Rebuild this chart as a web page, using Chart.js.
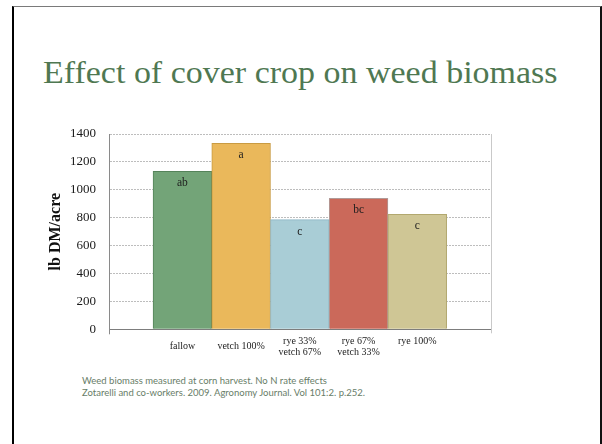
<!DOCTYPE html>
<html>
<head>
<meta charset="utf-8">
<script src="https://cdn.jsdelivr.net/npm/chart.js@4/dist/chart.umd.min.js"></script>
<style>
  html, body { margin: 0; padding: 0; background: #fff; width: 602px; height: 444px; overflow: hidden; }
  #slide {
    position: absolute; left: 12px; top: 6px; width: 586px; height: 460px;
    border-left: 2px solid #000; border-right: 2px solid #111; border-top: 1px solid #7a7a7a;
  }
  #title {
    position: absolute; left: 43px; top: 56px; white-space: nowrap;
    font-family: "Liberation Serif", serif; font-size: 32px; line-height: 32px;
    color: #4f7852; transform-origin: 0 0;
  }
  #note {
    position: absolute; left: 82px; top: 375px; white-space: nowrap;
    font-family: Lato, "Liberation Sans", sans-serif; font-size: 9.5px; line-height: 12px;
    color: #687d68;
  }
  #chartBox { position: absolute; left: 40px; top: 110px; width: 480px; height: 260px; }
</style>
</head>
<body>
<div id="slide"></div>
<div id="title">Effect of cover crop on weed biomass</div>
<div id="chartBox"><canvas id="c" width="480" height="260"></canvas></div>
<div id="note">Weed biomass measured at corn harvest. No N rate effects<br>Zotarelli and co-workers. 2009. Agronomy Journal. Vol 101:2. p.252.</div>
<script>
// Treatments, weed biomass (lb DM/acre) and mean-separation letters
const treatments = [["fallow"], ["vetch 100%"], ["rye 33%", "vetch 67%"], ["rye 67%", "vetch 33%"], ["rye 100%", ""]];
const biomass = [1133, 1333, 786, 938, 824];
const letters = ["ab", "a", "c", "bc", "c"];
const yTicks = [0, 200, 400, 600, 800, 1000, 1200, 1400];

const fills   = ["#73a478", "#eab85b", "#a9cdd6", "#cb695a", "#cfc695"];
const borders = ["#55835a", "#c99b42", "#8db5c4", "#b09a98", "#b2a86f"];

// Widen the heading so it spans its slot
(function fitTitle() {
  const t = document.getElementById("title");
  t.style.transform = "scaleX(" + (515 / t.offsetWidth).toFixed(4) + ")";
})();

// Letters placed just inside the top of each bar
const letterPlugin = {
  id: "letters",
  afterDatasetsDraw(chart) {
    const ctx = chart.ctx;
    const meta = chart.getDatasetMeta(0);
    ctx.save();
    ctx.font = "11.5px 'Liberation Serif', serif";
    ctx.fillStyle = "#1e1e1e";
    ctx.textAlign = "center";
    ctx.textBaseline = "middle";
    meta.data.forEach((bar, i) => ctx.fillText(letters[i], bar.x, bar.y + 12));
    ctx.restore();
  }
};

// Right edge of the plot frame and the small end tick under the axis
const framePlugin = {
  id: "frame",
  afterDraw(chart) {
    const { ctx, chartArea: a } = chart;
    ctx.save();
    ctx.lineWidth = 1;
    ctx.strokeStyle = "#c9c9c9";
    ctx.beginPath();
    ctx.moveTo(Math.round(a.right) + 0.5, a.top);
    ctx.lineTo(Math.round(a.right) + 0.5, a.bottom + 4);
    ctx.stroke();
    ctx.strokeStyle = "#8a8a8a";
    ctx.beginPath();
    ctx.moveTo(Math.round(a.left) + 0.5, a.bottom);
    ctx.lineTo(Math.round(a.left) + 0.5, a.bottom + 5);
    ctx.stroke();
    ctx.restore();
  }
};

new Chart(document.getElementById("c"), {
  type: "bar",
  data: {
    datasets: [{
      data: biomass.map((v, i) => ({ x: i, y: v })),
      backgroundColor: fills,
      borderColor: borders,
      borderWidth: 1,
      barPercentage: 1,
      categoryPercentage: 1
    }]
  },
  options: {
    responsive: false,
    animation: false,
    layout: { padding: { left: 0, top: 24, right: 29.3, bottom: 0 } },
    plugins: { legend: { display: false }, tooltip: { enabled: false } },
    scales: {
      x: {
        type: "linear",
        offset: false,
        min: -1.25,
        max: 5.25,
        afterBuildTicks: (s) => { s.ticks = treatments.map((t, i) => ({ value: i })); },
        afterFit: (s) => { s.height = 40.7; },
        grid: { display: false, drawTicks: false, offset: false },
        border: { display: true, color: "#7d7d7d", width: 1 },
        ticks: {
          autoSkip: false,
          maxRotation: 0,
          padding: 12,
          crossAlign: "center",
          color: "#222",
          font: { family: "'Liberation Serif', serif", size: 10, lineHeight: 1.1 },
          callback: (v, i) => treatments[i]
        }
      },
      y: {
        min: 0,
        max: 1400,
        afterBuildTicks: (s) => { s.ticks = yTicks.map(v => ({ value: v })); },
        afterFit: (s) => { s.width = 69; },
        grid: {
          drawTicks: false,
          color: (ctx) => ctx.tick && ctx.tick.value === 0 ? "rgba(0,0,0,0)" : "#bdbdbd"
        },
        border: { display: true, color: "#8a8a8a", width: 1, dash: [2, 1] },
        ticks: {
          padding: 13,
          color: "#1a1a1a",
          font: { family: "'Liberation Serif', serif", size: 13 },
          callback: (v) => String(v)
        },
        title: {
          display: true,
          text: "lb DM/acre",
          color: "#111",
          padding: { top: 6, bottom: 0 },
          font: { family: "'Liberation Serif', serif", size: 16, weight: "bold" }
        }
      }
    }
  },
  plugins: [letterPlugin, framePlugin]
});
</script>
</body>
</html>
